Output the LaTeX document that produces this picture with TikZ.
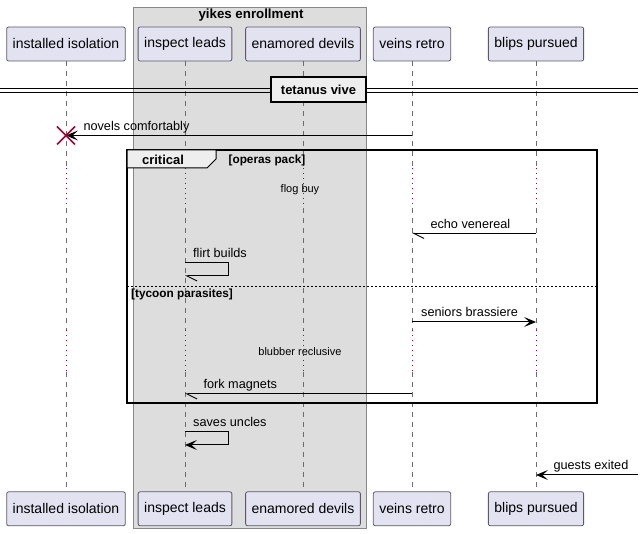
\documentclass[tikz,border=0pt]{standalone}
\usepackage{fontspec}
\setmainfont{Liberation Sans}
\usetikzlibrary{positioning, arrows.meta}

\definecolor{partfill}{HTML}{E2E2F0}
\definecolor{partline}{HTML}{5A5A66}
\definecolor{groupfill}{HTML}{DDDDDD}
\definecolor{groupline}{HTML}{888888}
\definecolor{tabfill}{HTML}{EEEEEE}
\definecolor{delayred}{HTML}{A80036}

\tikzset{
  participant/.style={draw=partline, fill=partfill, line width=0.8pt, rounded corners=2pt,
    minimum height=34pt, inner xsep=6pt, font=\fontsize{14}{16}\selectfont},
  lifeline/.style={draw=gray!85!black, line width=0.8pt, dash pattern=on 5pt off 5pt},
  delayline/.style={draw=delayred, line width=0.8pt, dash pattern=on 1pt off 4pt},
  msg/.style={font=\fontsize{12.7}{15}\selectfont, inner sep=0pt, anchor=base west},
  note/.style={font=\fontsize{11}{13}\selectfont, inner sep=0pt},
  sync/.style={line width=1pt, -{Stealth[length=12pt, width=10pt, inset=5.5pt]}},
  async/.style={line width=1pt, -{Straight Barb[harpoon, length=10pt, width=10pt]}},
  boldtext/.style={font=\fontsize{11.8}{14}\selectfont\bfseries, inner sep=0pt}
}

\begin{document}
\begin{tikzpicture}[x=1pt, y=-1pt]
        \useasboundingbox (0,0) rectangle (643,534);
        %---------------------------
        \filldraw[fill=groupfill, draw=groupline, line width=0.8pt] (133,7) rectangle (366,528);
        \node[font=\fontsize{13.3}{15}\selectfont\bfseries, inner sep=0pt] (grp) at (251,15) {yikes enrollment};
        %---------------------------
        \node[participant] (ii) at (66,44) {installed isolation};
        \node[participant] (il) at (185,44) {inspect leads};
        \node[participant] (ed) at (303,44) {enamored devils};
        \node[participant] (vr) at (412,44) {veins retro};
        \node[participant] (bp) at (536,44) {blips pursued};
        \node[participant, below=430pt of ii] (iiB) {installed isolation};
        \node[participant, below=430pt of il] (ilB) {inspect leads};
        \node[participant, below=430pt of ed] (edB) {enamored devils};
        \node[participant, below=430pt of vr] (vrB) {veins retro};
        \node[participant, below=430pt of bp] (bpB) {blips pursued};
        %---------------------------
        \coordinate (da) at (0,168);
        \coordinate (db) at (0,208);
        \coordinate (dc) at (0,330);
        \coordinate (dd) at (0,372);
        \foreach \p in {ii,il,ed,vr,bp} {
          \draw[lifeline] (\p.south) -- (\p |- da);
          \draw[delayline] (\p |- da) -- (\p |- db);
          \draw[lifeline] (\p |- db) -- (\p |- dc);
          \draw[delayline] (\p |- dc) -- (\p |- dd);
          \draw[lifeline] (\p |- dd) -- (\p B.north);
        }
        %---------------------------
        \coordinate (divL) at (0,89);
        \coordinate (divR) at (638,89);
        \coordinate (divL2) at (0,92.5);
        \coordinate (divR2) at (638,92.5);
        \draw[line width=1pt] (divL) -- (divR) (divL2) -- (divR2);
        \node[draw, line width=1.5pt, fill=tabfill, minimum width=95pt, minimum height=25pt,
          font=\fontsize{13}{15}\selectfont\bfseries] (div) at (318.5,89.5) {tetanus vive};
        %---------------------------
        \coordinate (m1) at (0,135.5);
        \draw[sync] (vr |- m1) -- (ii |- m1) node[msg, xshift=17pt, yshift=4.5pt] {novels comfortably};
        \draw[delayred, line width=1.6pt] ([shift={(-9,-9)}]ii |- m1) -- ([shift={(9,9)}]ii |- m1)
          ([shift={(-9,9)}]ii |- m1) -- ([shift={(9,-9)}]ii |- m1);
        %---------------------------
        \draw[line width=1.5pt] (127,150) rectangle (597,403);
        \filldraw[fill=tabfill, line width=1pt] (127,150) -- (216,150) -- (216,159) -- (207,168) -- (127,168) -- cycle;
        \node[font=\fontsize{13}{15}\selectfont\bfseries, inner sep=0pt] (crit) at (163,160) {critical};
        \node[boldtext] (cond1) at (267,160) {[operas pack]};
        \node[note] (dl1) at (300,190) {flog buy};
        %---------------------------
        \coordinate (m2) at (0,233.5);
        \draw[async] (bp |- m2) -- (vr |- m2) node[msg, xshift=18pt, yshift=5pt] {echo venereal};
        \coordinate (m3a) at (228,263);
        \coordinate (m3b) at (228,276);
        \draw[async] (il |- m3a) -- (m3a) -- (m3b) -- (il |- m3b);
        \node[msg] (lbl3) at ([xshift=8pt, yshift=5pt]il |- m3a) {flirt builds};
        %---------------------------
        \draw[line width=0.8pt, dash pattern=on 2pt off 2pt] (127,286) -- (597,286);
        \node[boldtext, anchor=west] (cond2) at (131,294) {[tycoon parasites]};
        \coordinate (m4) at (0,322);
        \draw[sync] (vr |- m4) -- (bp |- m4);
        \node[msg] (lbl4) at ([xshift=9pt, yshift=5pt]vr |- m4) {seniors brassiere};
        \node[note] (dl2) at (300,352) {blubber reclusive};
        \coordinate (m5) at (0,394);
        \draw[async] (vr |- m5) -- (il |- m5) node[msg, xshift=18pt, yshift=5pt] {fork magnets};
        %---------------------------
        \coordinate (m6a) at (228,432);
        \coordinate (m6b) at (228,445);
        \draw[sync] (il |- m6a) -- (m6a) -- (m6b) -- (il |- m6b);
        \node[msg] (lbl6) at ([xshift=8pt, yshift=5pt]il |- m6a) {saves uncles};
        \coordinate (gate) at (638,475);
        \draw[sync] (gate) -- (bp |- gate) node[msg, xshift=17pt, yshift=5pt] {guests exited};
\end{tikzpicture}
\end{document}
